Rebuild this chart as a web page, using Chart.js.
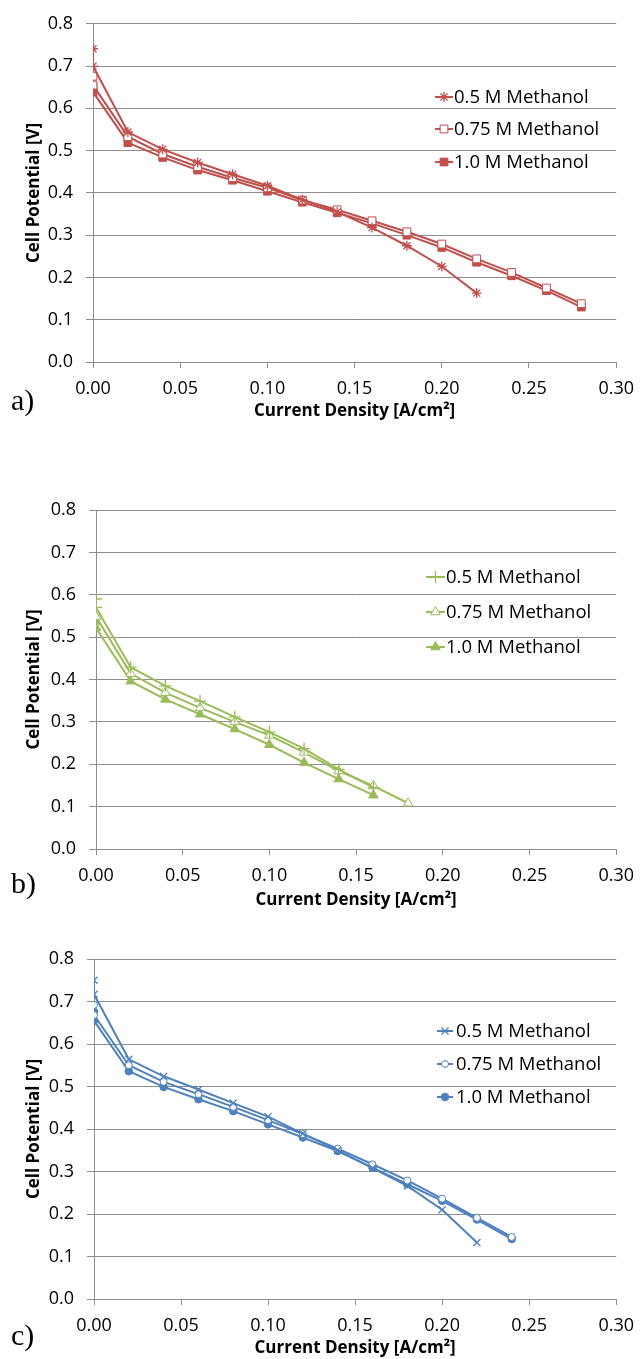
<!DOCTYPE html>
<html>
<head>
<meta charset="utf-8">
<title>Cell potential vs current density</title>
<script src="https://cdn.jsdelivr.net/npm/chart.js@4.4.1/dist/chart.umd.min.js"></script>
<style>
  html, body { margin: 0; padding: 0; background: #fff; }
  #wrap { position: relative; width: 644px; height: 1359px; overflow: hidden; }
  canvas { position: absolute; left: 0; }
</style>
</head>
<body>
<div id="wrap">
  <canvas id="chartA" width="644" height="430" style="top:0px"></canvas>
  <canvas id="chartB" width="644" height="475" style="top:440px"></canvas>
  <canvas id="chartC" width="644" height="429" style="top:930px"></canvas>
</div>
<script>
// Dados (A/cm² e V)
const seriesLabels = ['0.5 M Methanol', '0.75 M Methanol', '1.0 M Methanol'];
const xTicks = [0, 0.05, 0.10, 0.15, 0.20, 0.25, 0.30];
const yTicks = [0, 0.1, 0.2, 0.3, 0.4, 0.5, 0.6, 0.7, 0.8];

// a)
const currentA = [0, 0, 0.02, 0.04, 0.06, 0.08, 0.10, 0.12, 0.14, 0.16, 0.18, 0.20, 0.22, 0.24, 0.26, 0.28];
const potA05  = [0.741, 0.700, 0.544, 0.503, 0.472, 0.444, 0.417, 0.384, 0.355, 0.318, 0.275, 0.226, 0.163];
const potA075 = [0.676, 0.655, 0.533, 0.492, 0.462, 0.436, 0.412, 0.383, 0.360, 0.334, 0.308, 0.279, 0.244, 0.212, 0.175, 0.138];
const potA10  = [0.652, 0.639, 0.519, 0.484, 0.454, 0.430, 0.404, 0.378, 0.353, 0.328, 0.300, 0.271, 0.236, 0.204, 0.169, 0.130];

// b)
const currentB = [0, 0, 0.02, 0.04, 0.06, 0.08, 0.10, 0.12, 0.14, 0.16, 0.18];
const potB05  = [0.590, 0.570, 0.429, 0.385, 0.349, 0.312, 0.276, 0.237, 0.188, 0.145];
const potB075 = [0.558, 0.548, 0.414, 0.369, 0.333, 0.300, 0.268, 0.228, 0.184, 0.149, 0.108];
const potB10  = [0.537, 0.522, 0.396, 0.353, 0.318, 0.283, 0.246, 0.204, 0.165, 0.127];

// c)
const currentC = [0, 0, 0.02, 0.04, 0.06, 0.08, 0.10, 0.12, 0.14, 0.16, 0.18, 0.20, 0.22, 0.24];
const potC05  = [0.750, 0.717, 0.564, 0.524, 0.493, 0.461, 0.429, 0.389, 0.350, 0.308, 0.266, 0.210, 0.133];
const potC075 = [0.692, 0.668, 0.550, 0.511, 0.482, 0.452, 0.421, 0.388, 0.354, 0.317, 0.279, 0.236, 0.191, 0.146];
const potC10  = [0.676, 0.655, 0.536, 0.499, 0.470, 0.442, 0.411, 0.380, 0.348, 0.309, 0.270, 0.231, 0.187, 0.141];

const GRID = '#8e8e8e';
const TICK_FONT = { family: '"Open Sans", sans-serif', size: 18 };
const TITLE_FONT = { family: '"Open Sans", sans-serif', size: 17, weight: 'bold' };

// junta x e y em pontos
function pontos(xs, ys) {
    return ys.map((y, i) => ({ x: xs[i], y: y }));
}

// legenda estilo Excel (linha + marcador) e letra do painel
const extrasPlugin = {
    id: 'extras',
    afterDraw(chart, args, opts) {
        const ctx = chart.ctx;
        ctx.save();
        chart.data.datasets.forEach((ds, i) => {
            const y = opts.legendY[i];
            ctx.strokeStyle = ds.borderColor;
            ctx.lineWidth = 2;
            ctx.beginPath();
            ctx.moveTo(opts.lineX0, y);
            ctx.lineTo(opts.lineX1, y);
            ctx.stroke();
            ctx.fillStyle = ds.pointBackgroundColor;
            ctx.strokeStyle = ds.pointBorderColor;
            ctx.lineWidth = ds.pointBorderWidth;
            Chart.helpers.drawPoint(ctx, {
                pointStyle: ds.pointStyle,
                radius: ds.pointRadius,
                borderWidth: ds.pointBorderWidth,
                rotation: 0
            }, (opts.lineX0 + opts.lineX1) / 2, y);
            ctx.fillStyle = '#000';
            ctx.font = '18.5px "Open Sans", sans-serif';
            ctx.textAlign = 'left';
            ctx.textBaseline = 'middle';
            ctx.fillText(ds.label, opts.textX, y + 1);
        });
        ctx.font = '30px "Liberation Serif", serif';
        ctx.textBaseline = 'alphabetic';
        ctx.fillStyle = '#000';
        ctx.fillText(opts.letter, opts.letterX, opts.letterY);
        ctx.restore();
    }
};

function serie(label, xs, ys, color, style, radius, fill, bw) {
    return {
        label: label,
        data: pontos(xs, ys),
        showLine: true,
        borderColor: color,
        borderWidth: 2,
        pointStyle: style,
        pointRadius: radius,
        pointHoverRadius: radius,
        pointBorderWidth: bw,
        pointBorderColor: color,
        pointBackgroundColor: fill
    };
}

// cria um painel; p guarda só a geometria
function criarPainel(id, datasets, p) {
    const H = p.height;
    return new Chart(document.getElementById(id), {
        type: 'scatter',
        data: { datasets: datasets },
        plugins: [extrasPlugin],
        options: {
            responsive: false,
            animation: false,
            devicePixelRatio: 1,
            layout: { padding: { top: p.top, right: 644 - p.right, left: 0, bottom: 0 } },
            plugins: {
                legend: { display: false },
                tooltip: { enabled: false },
                extras: p.extras
            },
            scales: {
                x: {
                    type: 'linear',
                    min: 0,
                    max: 0.3,
                    afterBuildTicks: (s) => { s.ticks = xTicks.map(v => ({ value: v })); },
                    afterFit: (s) => { s.height = H - p.bottom; },
                    ticks: {
                        color: '#000',
                        font: TICK_FONT,
                        padding: 10,
                        maxRotation: 0,
                        callback: (v) => Number(v).toFixed(2)
                    },
                    grid: { drawOnChartArea: false, drawTicks: true, tickLength: 6, color: GRID },
                    border: { color: GRID, width: 1 },
                    title: {
                        display: true,
                        text: 'Current Density [A/cm²]',
                        color: '#000',
                        font: TITLE_FONT,
                        padding: { top: 0, bottom: p.xTitlePad }
                    }
                },
                y: {
                    type: 'linear',
                    min: 0,
                    max: 0.8,
                    afterBuildTicks: (s) => { s.ticks = yTicks.map(v => ({ value: v })); },
                    afterFit: (s) => { s.width = p.left; },
                    ticks: {
                        color: '#000',
                        font: TICK_FONT,
                        padding: 13,
                        callback: (v) => Number(v).toFixed(1)
                    },
                    grid: { drawTicks: true, tickLength: 7, color: GRID },
                    border: { color: GRID, width: 1 },
                    title: {
                        display: true,
                        text: 'Cell Potential [V]',
                        color: '#000',
                        font: TITLE_FONT,
                        padding: { top: 24, bottom: 0 }
                    }
                }
            }
        }
    });
}

const RED = '#C0504D', GREEN = '#9BBB59', BLUE = '#4F81BD';

criarPainel('chartA', [
    serie(seriesLabels[0], currentA, potA05, RED, 'star', 5, RED, 1.3),
    serie(seriesLabels[1], currentA, potA075, RED, 'rect', 5.5, '#fff', 1),
    serie(seriesLabels[2], currentA, potA10, RED, 'rect', 5.5, RED, 1)
], {
    height: 430, top: 23, bottom: 362, left: 93, right: 622, xTitlePad: 9,
    extras: { legendY: [97, 129, 162], lineX0: 435, lineX1: 453, textX: 454, letter: 'a)', letterX: 11, letterY: 410 }
});

criarPainel('chartB', [
    serie(seriesLabels[0], currentB, potB05, GREEN, 'cross', 6, GREEN, 1.3),
    serie(seriesLabels[1], currentB, potB075, GREEN, 'triangle', 5.5, '#fff', 1),
    serie(seriesLabels[2], currentB, potB10, GREEN, 'triangle', 5.5, GREEN, 1)
], {
    height: 475, top: 70, bottom: 409, left: 96, right: 625, xTitlePad: 5,
    extras: { legendY: [137, 172, 207], lineX0: 426, lineX1: 445, textX: 446, letter: 'b)', letterX: 11, letterY: 453 }
});

criarPainel('chartC', [
    serie(seriesLabels[0], currentC, potC05, BLUE, 'crossRot', 5, BLUE, 1.3),
    serie(seriesLabels[1], currentC, potC075, BLUE, 'circle', 3.5, '#fff', 1),
    serie(seriesLabels[2], currentC, potC10, BLUE, 'circle', 3.8, BLUE, 1)
], {
    height: 429, top: 29, bottom: 369, left: 94, right: 623, xTitlePad: 1,
    extras: { legendY: [101, 134, 167], lineX0: 437, lineX1: 453, textX: 456, letter: 'c)', letterX: 11, letterY: 415 }
});
</script>
</body>
</html>
